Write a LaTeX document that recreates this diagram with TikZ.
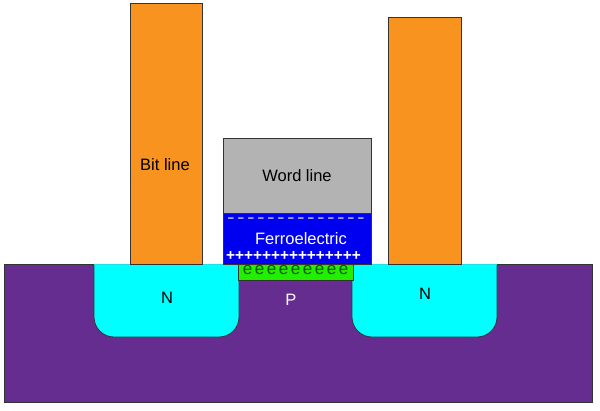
\documentclass[tikz,border=0pt]{standalone}
\usepackage{fontspec}
\usepackage{xcolor}
\setmainfont{Liberation Sans}
\definecolor{bitorange}{HTML}{F7931E}
\definecolor{subpurple}{HTML}{662D91}
\definecolor{drainycyan}{HTML}{00FFFF}
\definecolor{ferroblue}{HTML}{0000F0}
\definecolor{chgreen}{HTML}{22EE00}
\definecolor{wordgray}{HTML}{B3B3B3}
\definecolor{edgegray}{HTML}{333333}
\definecolor{egreen}{HTML}{0A5A0A}
\begin{document}
\begin{tikzpicture}[
    x=1pt, y=-1pt, line width=0.8pt,
    part/.style={draw=edgegray},
    every node/.style={font=\fontsize{16.5}{18}\selectfont, inner sep=0pt},
    charge/.style={text=white, font=\fontsize{15.4}{16}\selectfont\bfseries}
  ]
    \useasboundingbox (0,0) rectangle (600,410);
    \fill[white] (0,0) rectangle (600,410);
    \draw[part, fill=subpurple] (4,264) rectangle (592,402);
    \fill[drainycyan] (94,264) [rounded corners=20pt] -- (94,337) -- (239,337) [sharp corners] -- (239,264) -- cycle;
    \draw[part] (94,264) [rounded corners=20pt] -- (94,337) -- (239,337) [sharp corners] -- (239,264);
    \fill[drainycyan] (352,264) [rounded corners=20pt] -- (352,337) -- (497,337) [sharp corners] -- (497,264) -- cycle;
    \draw[part] (352,264) [rounded corners=20pt] -- (352,337) -- (497,337) [sharp corners] -- (497,264);
    \draw[drainycyan!80!gray, line width=0.6pt] (94,264) -- (239,264) (352,264) -- (497,264);
    \draw[part, fill=chgreen] (238,264) rectangle (353,280);
    \draw[part, fill=bitorange] (130,3) rectangle (202,264);
    \draw[part, fill=bitorange] (388.5,17) rectangle (461,264);
    \draw[part, fill=wordgray] (223,138) rectangle (371,213);
    \draw[part, fill=ferroblue] (223,213) rectangle (371,264);
    \node (bitlabel) at (165,165) {Bit line};
    \node (wordlabel) at (297,176) {Word line};
    \node[text=white] (ferrolabel) at (301,239) {Ferroelectric};
    \foreach \i in {0,...,13}
      \node[charge, font=\fontsize{11}{12}\selectfont\bfseries] (minus\i) at (231+10*\i,220) {–};
    \node[charge] (plus) at (293.5,255.5) {+++++++++++++++};
    \foreach \i in {0,...,8}
      \node[text=egreen, font=\fontsize{17}{18}\selectfont] (elec\i) at (247.5+12*\i,270.5) {e};
    \node (nleft) at (167,298) {N};
    \node (nright) at (425,294) {N};
    \node[text=white] (plabel) at (291,300) {P};
  \end{tikzpicture}
\end{document}
